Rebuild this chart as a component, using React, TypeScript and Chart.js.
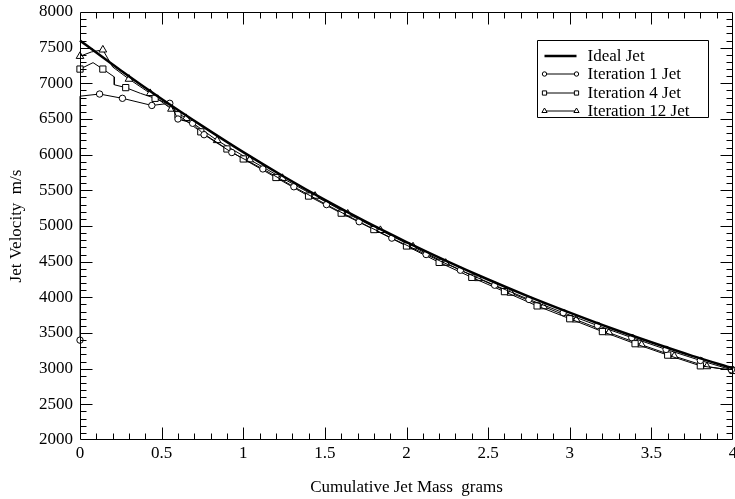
import { useEffect, useRef } from "react";
import { Chart, registerables } from "chart.js";

Chart.register(...registerables);

const xTickValues = [0, 0.5, 1, 1.5, 2, 2.5, 3, 3.5, 4];
const yTickValues = [2000, 2500, 3000, 3500, 4000, 4500, 5000, 5500, 6000, 6500, 7000, 7500, 8000];

const seriesLabels = ["Ideal Jet", "Iteration 1 Jet", "Iteration 4 Jet", "Iteration 12 Jet"];

const idealMass = [0, 0.25, 0.5, 0.75, 1, 1.25, 1.5, 1.75, 2, 2.25, 2.5, 2.75, 3, 3.25, 3.5, 3.75, 4];
const idealVelocity = [7600, 7180, 6780, 6400, 6035, 5690, 5365, 5060, 4775, 4505, 4250, 4010, 3785, 3570, 3370, 3180, 3005];

const iter1Mass = [0, 0, 0.12, 0.26, 0.44, 0.55, 0.6, 0.69, 0.76, 0.93, 1.12, 1.31, 1.51, 1.71, 1.91, 2.12, 2.33, 2.54, 2.75, 2.96, 3.17, 3.38, 3.59, 3.8, 3.99];
const iter1Velocity = [3400, 6820, 6850, 6790, 6690, 6720, 6500, 6440, 6280, 6030, 5800, 5550, 5300, 5060, 4830, 4600, 4380, 4170, 3970, 3785, 3605, 3435, 3270, 3115, 2985];
const iter1Marked = [1, 0, 1, 1, 1, 1, 1, 1, 1, 1, 1, 1, 1, 1, 1, 1, 1, 1, 1, 1, 1, 1, 1, 1, 1];

const iter4Mass = [0, 0.08, 0.14, 0.21, 0.21, 0.28, 0.37, 0.46, 0.56, 0.6, 0.74, 0.9, 1.0, 1.2, 1.4, 1.6, 1.8, 2.0, 2.2, 2.4, 2.6, 2.8, 3.0, 3.2, 3.4, 3.6, 3.8, 4.0];
const iter4Velocity = [7200, 7290, 7200, 7090, 6980, 6940, 6860, 6790, 6690, 6560, 6320, 6080, 5940, 5680, 5420, 5180, 4950, 4720, 4490, 4280, 4080, 3880, 3700, 3520, 3350, 3190, 3040, 2975];
const iter4Marked = [1, 0, 1, 0, 0, 1, 0, 1, 0, 1, 1, 1, 1, 1, 1, 1, 1, 1, 1, 1, 1, 1, 1, 1, 1, 1, 1, 1];

const iter12Mass = [0, 0.07, 0.14, 0.2, 0.3, 0.43, 0.56, 0.65, 0.84, 1.04, 1.24, 1.44, 1.64, 1.84, 2.04, 2.24, 2.44, 2.64, 2.84, 3.04, 3.24, 3.44, 3.64, 3.84, 4.0];
const iter12Velocity = [7380, 7440, 7470, 7230, 7060, 6860, 6640, 6510, 6200, 5930, 5670, 5420, 5170, 4940, 4710, 4480, 4265, 4060, 3870, 3685, 3505, 3335, 3175, 3030, 2975];
const iter12Marked = [1, 0, 1, 0, 1, 1, 1, 1, 1, 1, 1, 1, 1, 1, 1, 1, 1, 1, 1, 1, 1, 1, 1, 1, 1];

const FONT = "'Liberation Serif', 'Times New Roman', serif";

function toPoints(xs: number[], ys: number[]) {
  return xs.map((x, i) => ({ x, y: ys[i] }));
}

function drawMarker(ctx: CanvasRenderingContext2D, style: string, x: number, y: number, r: number) {
  ctx.beginPath();
  if (style === "circle") {
    ctx.arc(x, y, r, 0, Math.PI * 2);
  } else if (style === "rect") {
    const s = r * Math.SQRT1_2;
    ctx.rect(x - s, y - s, 2 * s, 2 * s);
  } else if (style === "triangle") {
    for (let k = 0; k < 3; k++) {
      const a = (k * 2 * Math.PI) / 3;
      const px = x + Math.sin(a) * r;
      const py = y - Math.cos(a) * r;
      if (k === 0) ctx.moveTo(px, py);
      else ctx.lineTo(px, py);
    }
    ctx.closePath();
  }
  ctx.fillStyle = "#fff";
  ctx.fill();
  ctx.lineWidth = 1;
  ctx.strokeStyle = "#000";
  ctx.stroke();
}

const framePlugin = {
  id: "frameTicks",
  afterDatasetsDraw(chart: any) {
    const { ctx, chartArea } = chart;
    const xs = chart.scales.x;
    const ys = chart.scales.y;
    const L = Math.round(chartArea.left) + 0.5;
    const R = Math.round(chartArea.right) - 0.5;
    const T = Math.round(chartArea.top) + 0.5;
    const B = Math.round(chartArea.bottom) - 0.5;
    ctx.save();
    ctx.strokeStyle = "#000";
    ctx.lineWidth = 1;
    ctx.beginPath();
    ctx.rect(L, T, R - L, B - T);
    ctx.stroke();
    const major = 12;
    const minor = 6;
    ctx.beginPath();
    for (let k = 1; k < 40; k++) {
      const v = k / 10;
      const px = Math.round(xs.getPixelForValue(v)) + 0.5;
      const len = k % 5 === 0 ? major : minor;
      ctx.moveTo(px, B);
      ctx.lineTo(px, B - len);
      ctx.moveTo(px, T);
      ctx.lineTo(px, T + len);
    }
    for (let v = 2100; v < 8000; v += 100) {
      const py = Math.round(ys.getPixelForValue(v)) + 0.5;
      const len = v % 500 === 0 ? major : minor;
      ctx.moveTo(L, py);
      ctx.lineTo(L + len, py);
      ctx.moveTo(R, py);
      ctx.lineTo(R - len, py);
    }
    ctx.stroke();

    // legend box
    const bl = Math.round(chartArea.right) - 195.5;
    const bt = Math.round(chartArea.top) + 28.5;
    const bw = 171;
    const bh = 77;
    ctx.beginPath();
    ctx.rect(bl, bt, bw, bh);
    ctx.fillStyle = "#fff";
    ctx.fill();
    ctx.stroke();
    ctx.font = `17px ${FONT}`;
    ctx.textBaseline = "middle";
    ctx.textAlign = "left";
    chart.data.datasets.forEach((ds: any, i: number) => {
      const cy = Math.round(bt + 15 + i * 18.6);
      const x0 = bl + 7;
      const x1 = bl + 39;
      ctx.beginPath();
      ctx.moveTo(x0, cy);
      ctx.lineTo(x1, cy);
      ctx.lineWidth = ds.borderWidth;
      ctx.strokeStyle = "#000";
      ctx.stroke();
      ctx.lineWidth = 1;
      if (ds.pointStyle && ds.legendMarker) {
        drawMarker(ctx, ds.pointStyle, x0, cy, ds.legendMarker);
        drawMarker(ctx, ds.pointStyle, x1, cy, ds.legendMarker);
      }
      ctx.fillStyle = "#000";
      ctx.fillText(ds.label, bl + 50, cy + 1);
    });
    ctx.restore();
  },
};

export default function App() {
  const ref = useRef<HTMLCanvasElement | null>(null);
  useEffect(() => {
    if (!ref.current) return;
    const radiusFrom = (marks: number[], r: number) => marks.map((m) => (m ? r : 0));
    const chart = new Chart(ref.current, {
      type: "line",
      data: {
        datasets: [
          {
            label: seriesLabels[0],
            data: toPoints(idealMass, idealVelocity),
            borderColor: "#000",
            borderWidth: 2.5,
            pointRadius: 0,
            cubicInterpolationMode: "monotone",
            clip: false,
          } as any,
          {
            label: seriesLabels[1],
            data: toPoints(iter1Mass, iter1Velocity),
            borderColor: "#000",
            borderWidth: 1,
            pointStyle: "circle",
            pointRadius: radiusFrom(iter1Marked, 3.2),
            pointBackgroundColor: "#fff",
            pointBorderColor: "#000",
            pointBorderWidth: 1,
            legendMarker: 2.2,
            clip: false,
          },
          {
            label: seriesLabels[2],
            data: toPoints(iter4Mass, iter4Velocity),
            borderColor: "#000",
            borderWidth: 1,
            pointStyle: "rect",
            pointRadius: radiusFrom(iter4Marked, 4.4),
            pointBackgroundColor: "#fff",
            pointBorderColor: "#000",
            pointBorderWidth: 1,
            legendMarker: 3,
            clip: false,
          },
          {
            label: seriesLabels[3],
            data: toPoints(iter12Mass, iter12Velocity),
            borderColor: "#000",
            borderWidth: 1,
            pointStyle: "triangle",
            pointRadius: radiusFrom(iter12Marked, 4.4),
            pointBackgroundColor: "#fff",
            pointBorderColor: "#000",
            pointBorderWidth: 1,
            legendMarker: 3,
            clip: false,
          },
        ] as any,
      },
      options: {
        animation: false,
        responsive: false,
        maintainAspectRatio: false,
        layout: { autoPadding: false, padding: { top: 12, right: 17, bottom: 0, left: 0 } },
        plugins: { legend: { display: false }, tooltip: { enabled: false } },
        elements: { line: { tension: 0 } },
        scales: {
          x: {
            type: "linear",
            min: 0,
            max: 4,
            afterBuildTicks: (s: any) => {
              s.ticks = xTickValues.map((v) => ({ value: v }));
            },
            afterFit: (s: any) => {
              s.height = 59;
              s.paddingLeft = 0;
              s.paddingRight = 0;
            },
            grid: { display: false, drawTicks: false },
            border: { display: false },
            ticks: {
              color: "#000",
              padding: 3,
              maxRotation: 0,
              autoSkip: false,
              font: { family: FONT, size: 17 },
              callback: (v: any) => String(v),
            },
            title: {
              display: true,
              text: "Cumulative Jet Mass  grams",
              color: "#000",
              font: { family: FONT, size: 17 },
              padding: { top: 0, bottom: 1 },
            },
          },
          y: {
            type: "linear",
            min: 2000,
            max: 8000,
            afterBuildTicks: (s: any) => {
              s.ticks = yTickValues.map((v) => ({ value: v }));
            },
            afterFit: (s: any) => {
              s.width = 80;
              s.paddingTop = 0;
              s.paddingBottom = 0;
            },
            grid: { display: false, drawTicks: false },
            border: { display: false },
            ticks: {
              color: "#000",
              padding: 7,
              autoSkip: false,
              font: { family: FONT, size: 17 },
              callback: (v: any) => String(v),
            },
            title: {
              display: true,
              text: "Jet Velocity  m/s",
              color: "#000",
              font: { family: FONT, size: 17 },
              padding: { top: 6, bottom: 0 },
            },
          },
        },
      } as any,
      plugins: [framePlugin],
    });
    return () => chart.destroy();
  }, []);
  return (
    <div
      style={{
        position: "fixed",
        left: 0,
        top: 0,
        width: 735,
        height: 499,
        overflow: "hidden",
        background: "#fff",
      }}
    >
      <canvas ref={ref} width={750} height={499} style={{ width: 750, height: 499, display: "block" }} />
    </div>
  );
}
